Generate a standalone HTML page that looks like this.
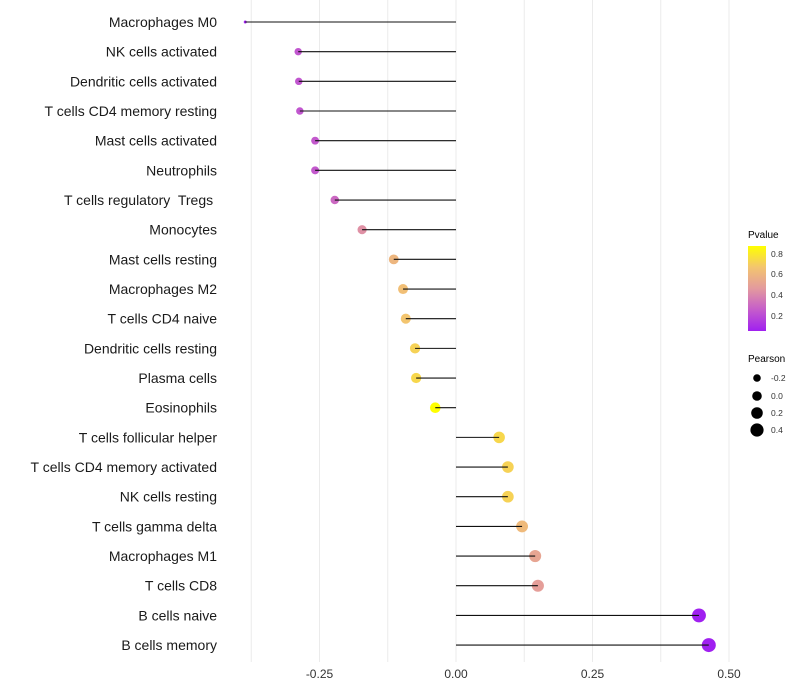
<!DOCTYPE html>
<html><head><meta charset="utf-8"><style>
body{margin:0;background:#fff}
svg{display:block;font-family:"Liberation Sans",sans-serif}
text{white-space:pre}
</style></head><body>
<svg id="chart" width="800" height="700">
<g id="grid"></g>
<g id="marks"></g>
<g id="ylab"></g>
<g id="xlab"></g>
<g>
<defs><linearGradient id="pg" x1="0" y1="1" x2="0" y2="0">
<stop offset="0" stop-color="#a020f0"/><stop offset="0.25" stop-color="#c55ccb"/><stop offset="0.5" stop-color="#e39a9e"/><stop offset="0.75" stop-color="#f3c56f"/><stop offset="1" stop-color="#ffff00"/></linearGradient></defs>
<text x="748" y="238" font-size="10">Pvalue</text>
<rect x="748" y="246" width="18" height="85" fill="url(#pg)"/>
<text x="771" y="257" font-size="8.5" fill="#333">0.8</text>
<text x="771" y="277" font-size="8.5" fill="#333">0.6</text>
<text x="771" y="298" font-size="8.5" fill="#333">0.4</text>
<text x="771" y="319" font-size="8.5" fill="#333">0.2</text>
</g>
<g>
<text x="748" y="362" font-size="10">Pearson</text>
<circle cx="757" cy="378" r="3.8"/><text x="771" y="381" font-size="8.5" fill="#333">-0.2</text>
<circle cx="757" cy="396" r="4.8"/><text x="771" y="399" font-size="8.5" fill="#333">0.0</text>
<circle cx="757" cy="413" r="5.8"/><text x="771" y="416" font-size="8.5" fill="#333">0.2</text>
<circle cx="757" cy="430" r="6.6"/><text x="771" y="433" font-size="8.5" fill="#333">0.4</text>
</g>
</svg>
<script>
const categories=["Macrophages M0","NK cells activated","Dendritic cells activated","T cells CD4 memory resting","Mast cells activated","Neutrophils","T cells regulatory  Tregs ","Monocytes","Mast cells resting","Macrophages M2","T cells CD4 naive","Dendritic cells resting","Plasma cells","Eosinophils","T cells follicular helper","T cells CD4 memory activated","NK cells resting","T cells gamma delta","Macrophages M1","T cells CD8","B cells naive","B cells memory"];
const pearson=[-0.386,-0.289,-0.288,-0.286,-0.258,-0.258,-0.222,-0.172,-0.114,-0.097,-0.092,-0.075,-0.073,-0.038,0.079,0.095,0.095,0.121,0.145,0.150,0.445,0.463];
const pvalue=[0.05,0.23,0.23,0.23,0.24,0.24,0.29,0.42,0.58,0.62,0.65,0.7,0.72,0.87,0.72,0.7,0.7,0.6,0.5,0.47,0.05,0.04];
const xticks=[-0.25,0,0.25,0.5];
const xtickLabels=["-0.25","0.00","0.25","0.50"];
const NS="http://www.w3.org/2000/svg";
const X=v=>456+v*546;
const Y=i=>22+i*29.67;
const mn=Math.min(...pearson),mx=Math.max(...pearson);
const R=v=>1.5+5.5*Math.pow((v-mn)/(mx-mn),0.42);
const stops=[[0.05,[160,32,240]],[0.25,[197,92,203]],[0.45,[227,154,158]],[0.65,[243,197,111]],[0.87,[255,255,0]]];
function col(p){if(p<=stops[0][0])return`rgb(${stops[0][1]})`;for(let k=1;k<stops.length;k++){if(p<=stops[k][0]){const t=(p-stops[k-1][0])/(stops[k][0]-stops[k-1][0]);const a=stops[k-1][1],b=stops[k][1];return`rgb(${a.map((c,j)=>Math.round(c+(b[j]-c)*t))})`;}}return"rgb(255,255,0)";}
function mk(t,at,par){const e=document.createElementNS(NS,t);for(const k in at)e.setAttribute(k,at[k]);document.getElementById(par).appendChild(e);return e;}
for(let v=-0.375;v<=0.5;v+=0.125){const g=mk("line",{x1:X(v),x2:X(v),y1:0,y2:662,stroke:"#ebebeb","stroke-width":1},"grid");

}
xticks.forEach((v,i)=>{const t=mk("text",{x:X(v),y:678,"text-anchor":"middle","font-size":12,fill:"#333"},"xlab");t.textContent=xtickLabels[i];

});
categories.forEach((c,i)=>{
const t=mk("text",{x:217,y:Y(i)+5,"text-anchor":"end","font-size":14,fill:"#1a1a1a"},"ylab");t.textContent=c;


const p=mk("circle",{cx:X(pearson[i]),cy:Y(i),r:R(pearson[i]),fill:col(pvalue[i])},"marks");


const l=mk("line",{x1:X(0),x2:X(pearson[i]),y1:Y(i),y2:Y(i),stroke:"#111","stroke-width":1.1},"marks");


});
</script>
</body></html>
